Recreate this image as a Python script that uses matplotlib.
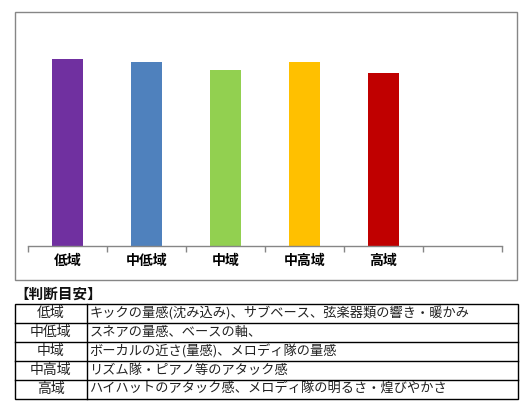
import matplotlib
matplotlib.use("Agg")
import matplotlib.pyplot as plt
from matplotlib.patches import Rectangle

plt.rcParams["font.family"] = ["Noto Sans CJK JP", "DejaVu Sans"]

# data
bands = ["低域", "中低域", "中域", "中高域", "高域"]
levels = [187, 184, 176, 184, 173]
bar_colors = ["#7030A0", "#4F81BD", "#92D050", "#FFC000", "#C00000"]
n_slots = 6          # one empty category at the right

table_title = "【判断目安】"
guide_bands = ["低域", "中低域", "中域", "中高域", "高域"]
guide_notes = [
    "キックの量感(沈み込み)、サブベース、弦楽器類の響き・暖かみ",
    "スネアの量感、ベースの軸、",
    "ボーカルの近さ(量感)、メロディ隊の量感",
    "リズム隊・ピアノ等のアタック感",
    "ハイハットのアタック感、メロディ隊の明るさ・煌びやかさ",
]

W, H = 528, 409
fig = plt.figure(figsize=(W / 100, H / 100), dpi=100)

# overlay in pixel coordinates for the frame and the table
ov = fig.add_axes([0, 0, 1, 1])
ov.set_xlim(0, W)
ov.set_ylim(H, 0)
ov.set_axis_off()

# chart frame
ov.add_patch(Rectangle((14.5, 11.5), 502.5, 268.5, fill=False,
                       edgecolor="#868686", lw=1.0))

# bar chart
ax = fig.add_axes([28 / W, (H - 246) / H, (502 - 28) / W, (246 - 20) / H])
x = list(range(len(bands)))
ax.bar(x, levels, width=0.405, color=bar_colors, zorder=2)
ax.set_xlim(-0.5, n_slots - 0.5)
ax.set_ylim(0, 226)
for s in ["top", "right", "left"]:
    ax.spines[s].set_visible(False)
ax.spines["bottom"].set_color("#868686")
ax.spines["bottom"].set_linewidth(1.0)
ax.set_yticks([])
ax.set_xticks([i - 0.5 for i in range(n_slots + 1)])
ax.set_xticklabels([])
ax.tick_params(axis="x", which="major", direction="out", length=4,
               color="#868686", width=1.0)
ax.set_xticks(x, minor=True)
ax.set_xticklabels(bands, minor=True, fontsize=10, fontweight="bold")
ax.tick_params(axis="x", which="minor", length=0, pad=6)
ax.patch.set_alpha(0)

# guide table
ov.text(14, 294, table_title, fontsize=10.5, fontweight="bold",
        ha="left", va="center", color="#111111")
t_left, t_div, t_right = 14.5, 86.5, 518
t_top, row_h = 303.5, 19.1
n_rows = len(guide_bands)
t_bot = t_top + row_h * n_rows
ov.add_patch(Rectangle((t_left, t_top), t_right - t_left, t_bot - t_top,
                       fill=False, edgecolor="black", lw=1.0))
ov.plot([t_div, t_div], [t_top, t_bot], color="black", lw=1.0)
for i in range(1, n_rows):
    y = t_top + row_h * i
    ov.plot([t_left, t_right], [y, y], color="black", lw=1.0)
for i, (band, note) in enumerate(zip(guide_bands, guide_notes)):
    yc = t_top + row_h * (i + 0.5)
    ov.text((t_left + t_div) / 2, yc, band, fontsize=10, ha="center",
            va="center", color="#222222")
    ov.text(t_div + 3, yc, note, fontsize=9.5, ha="left", va="center",
            color="#222222")

fig.savefig("out.png", dpi=100)
